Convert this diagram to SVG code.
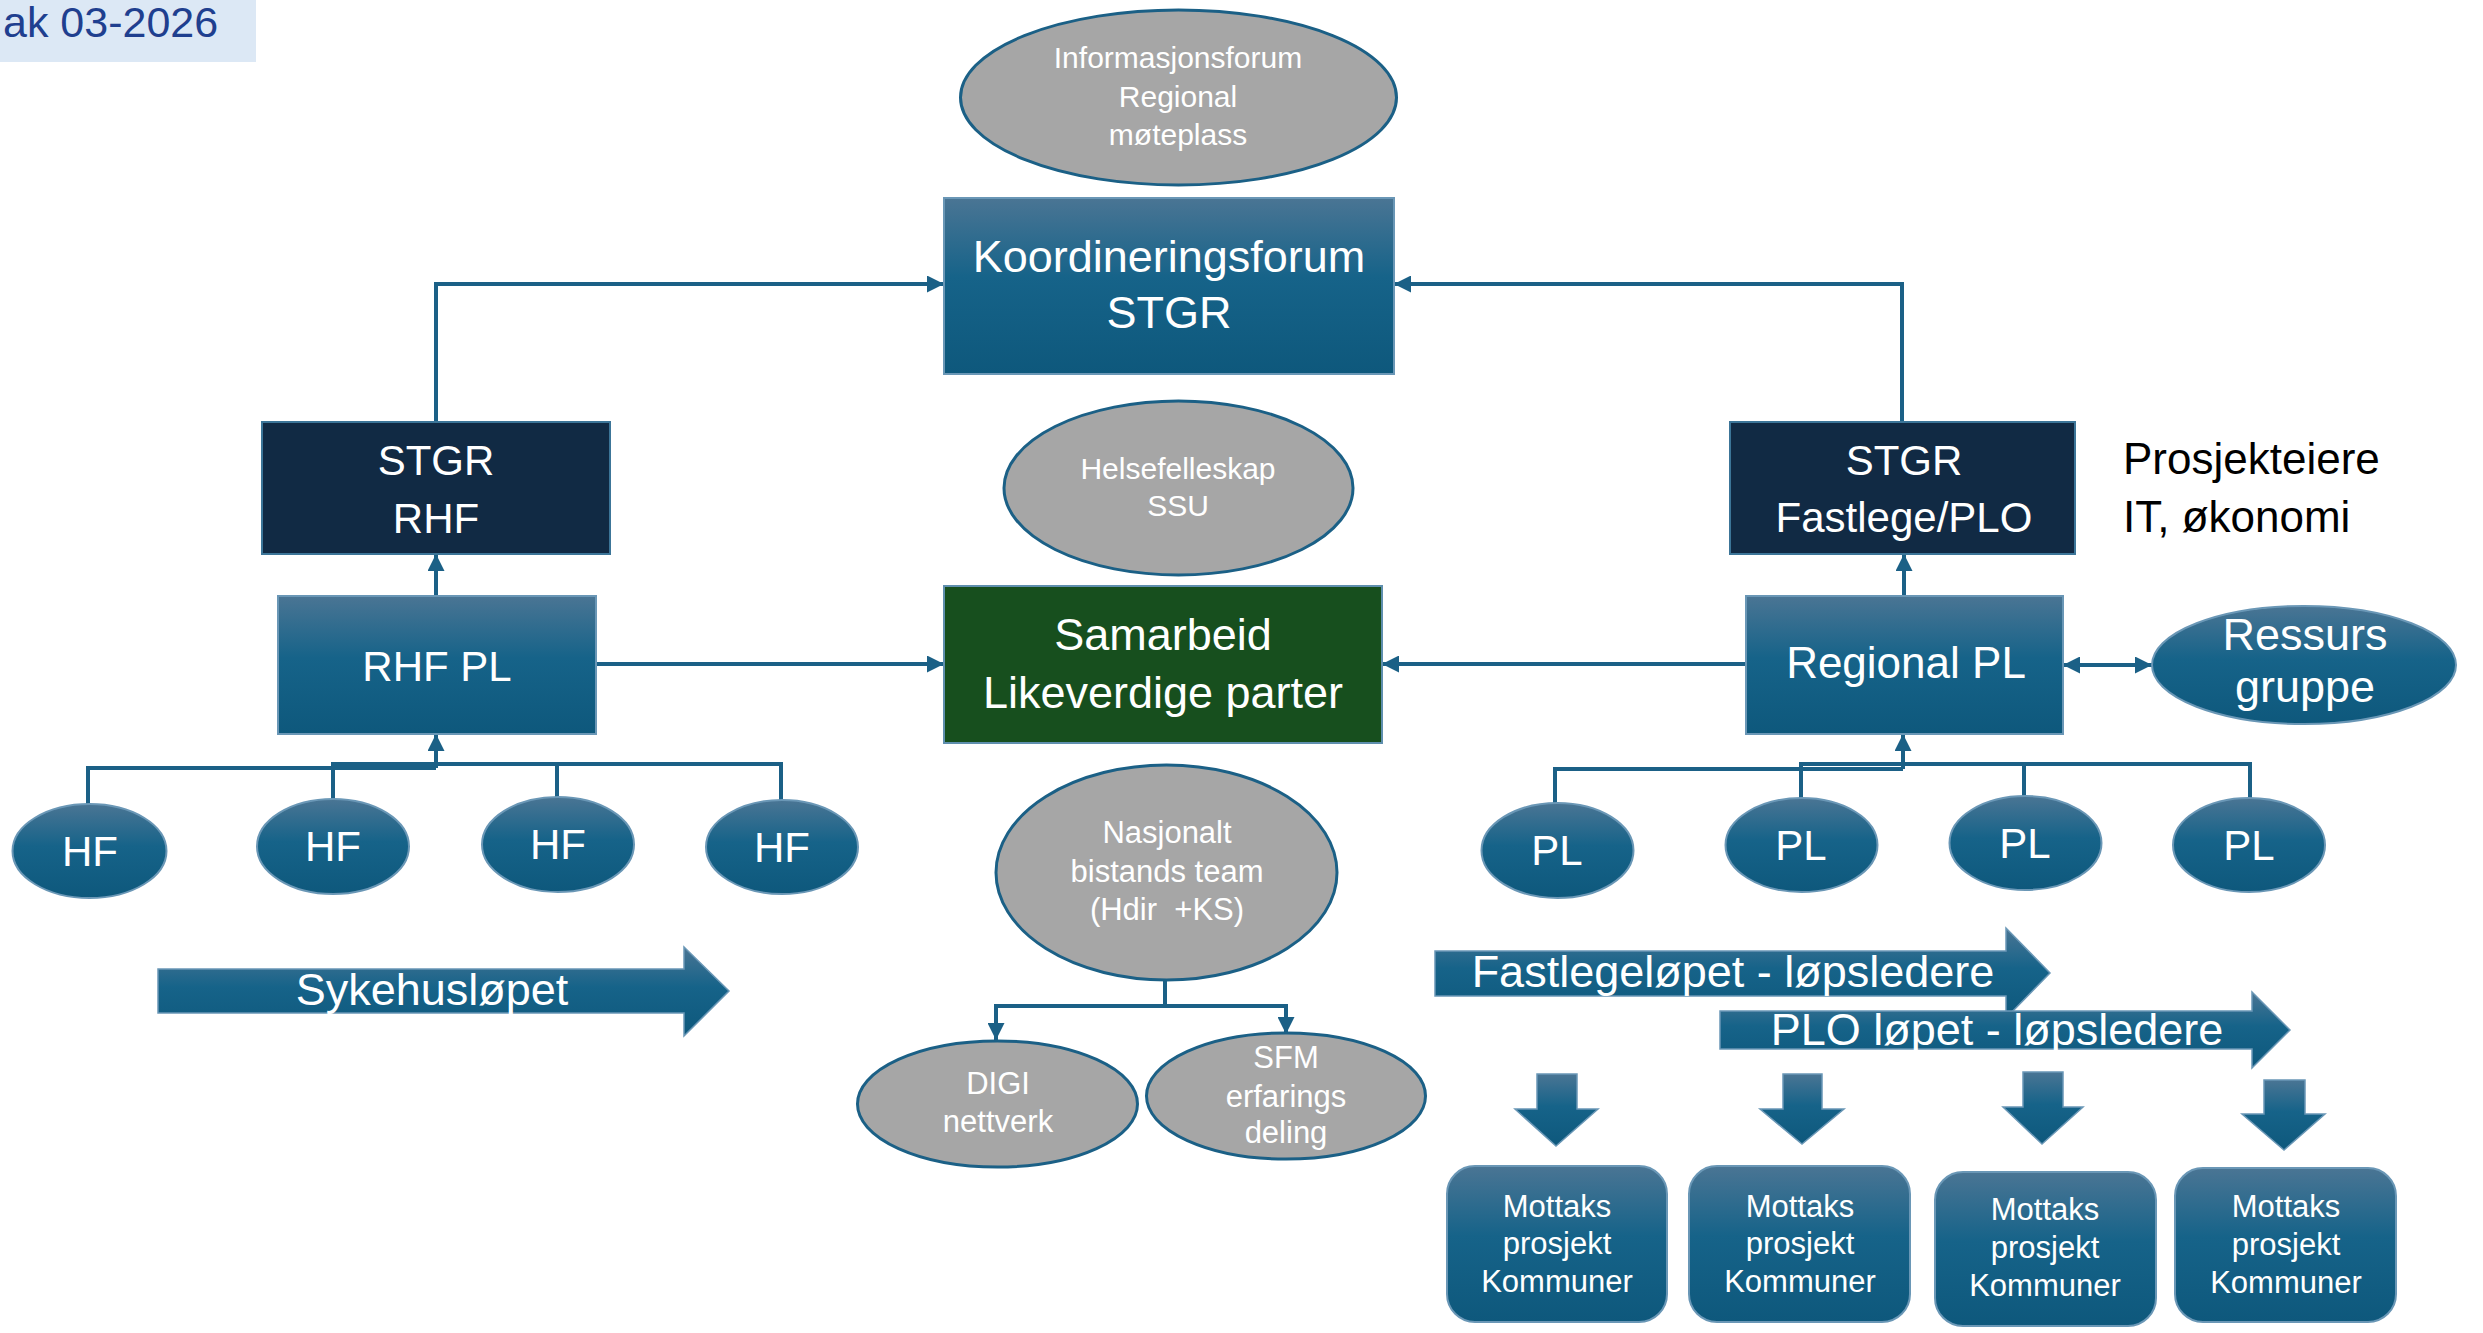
<svg xmlns="http://www.w3.org/2000/svg" width="2483" height="1333" viewBox="0 0 2483 1333">
<defs>
<linearGradient id="g" x1="0" y1="0" x2="0" y2="1">
<stop offset="0" stop-color="#4A7594"/>
<stop offset="0.45" stop-color="#166389"/>
<stop offset="1" stop-color="#0E587C"/>
</linearGradient>
<marker id="ah" markerWidth="17" markerHeight="17" refX="17" refY="8.5" orient="auto-start-reverse" markerUnits="userSpaceOnUse">
<path d="M0,0 L17,8.5 L0,17 Z" fill="#1B6086"/>
</marker>
<style>
text{font-family:"Liberation Sans",Arial,sans-serif;text-anchor:middle;fill:#fff}
.bx{fill:url(#g);stroke:#6A97B6;stroke-width:2}
.dk{fill:#112A44;stroke:#3C7598;stroke-width:2}
.gr{fill:#A6A6A6;stroke:#1B6086;stroke-width:3}
.c{fill:none;stroke:#1B6086;stroke-width:4}
.a{marker-end:url(#ah)}
.ba{fill:url(#g);stroke:#6A97B6;stroke-width:1.5}
</style>
</defs>
<rect width="2483" height="1333" fill="#fff"/>
<g id="label">
<rect x="0" y="0" width="256" height="62" fill="#DCE8F5"/>
<text x="3" y="37" style="text-anchor:start;fill:#1F3F8F;font-size:43px">ak 03-2026</text>
</g>
<g id="connectors">
<path class="c a" d="M436,422 V284 H944"/>
<path class="c a" d="M1902,422 V284 H1394"/>
<path class="c a" d="M436,596 V554"/>
<path class="c a" d="M1904,596 V554"/>
<path class="c a" d="M596,664 H944"/>
<path class="c a" d="M1746,664 H1382"/>
<path class="c a" d="M2063,665 H2152" style="marker-start:url(#ah)"/>
<path class="c" d="M88,804 V768 H436"/>
<path class="c" d="M333,799 V764 H781 V800"/>
<path class="c" d="M557,797 V764"/>
<path class="c a" d="M436,768 V734"/>
<path class="c" d="M1555,803 V769 H1903"/>
<path class="c" d="M1801,798 V764 H2250 V798"/>
<path class="c" d="M2024,796 V764"/>
<path class="c a" d="M1903,769 V734"/>
<path class="c" d="M1165,980 V1006 M994,1006 H1288"/>
<path class="c a" d="M996,1006 V1040"/>
<path class="c a" d="M1286,1006 V1034"/>
</g>
<g id="informasjonsforum">
<ellipse class="gr" cx="1178.5" cy="97.5" rx="218" ry="87.5"/>
<text x="1178" y="68" font-size="30">Informasjonsforum</text>
<text x="1178" y="107" font-size="30">Regional</text>
<text x="1178" y="145" font-size="30">møteplass</text>
</g>
<g id="koordineringsforum">
<rect class="bx" x="944" y="198" width="450" height="176"/>
<text x="1169" y="272" font-size="45">Koordineringsforum</text>
<text x="1169" y="328" font-size="45">STGR</text>
</g>
<g id="stgr-rhf">
<rect class="dk" x="262" y="422" width="348" height="132"/>
<text x="436" y="475" font-size="42">STGR</text>
<text x="436" y="533" font-size="42">RHF</text>
</g>
<g id="stgr-fastlege">
<rect class="dk" x="1730" y="422" width="345" height="132"/>
<text x="1904" y="475" font-size="42">STGR</text>
<text x="1904" y="532" font-size="42">Fastlege/PLO</text>
</g>
<g id="prosjekteiere">
<text x="2123" y="474" font-size="44" style="text-anchor:start;fill:#000">Prosjekteiere</text>
<text x="2123" y="532" font-size="44" style="text-anchor:start;fill:#000">IT, økonomi</text>
</g>
<g id="helsefelleskap">
<ellipse class="gr" cx="1178.5" cy="488" rx="174.5" ry="87"/>
<text x="1178" y="479" font-size="30">Helsefelleskap</text>
<text x="1178" y="516" font-size="30">SSU</text>
</g>
<g id="rhf-pl">
<rect class="bx" x="278" y="596" width="318" height="138"/>
<text x="437" y="681" font-size="42">RHF PL</text>
</g>
<g id="samarbeid">
<rect x="944" y="586" width="438" height="157" fill="#174F1E" stroke="#5F8FAE" stroke-width="2"/>
<text x="1163" y="650" font-size="45">Samarbeid</text>
<text x="1163" y="708" font-size="45">Likeverdige parter</text>
</g>
<g id="regional-pl">
<rect class="bx" x="1746" y="596" width="317" height="138"/>
<text x="1906" y="678" font-size="44">Regional PL</text>
</g>
<g id="ressursgruppe">
<ellipse class="bx" cx="2304" cy="665" rx="152" ry="59"/>
<text x="2305" y="650" font-size="45">Ressurs</text>
<text x="2305" y="702" font-size="45">gruppe</text>
</g>
<g id="hf1"><ellipse class="bx" cx="89.5" cy="851" rx="77" ry="47"/><text x="90" y="866" font-size="42">HF</text></g>
<g id="hf2"><ellipse class="bx" cx="333" cy="846.5" rx="76" ry="47.5"/><text x="333" y="861" font-size="42">HF</text></g>
<g id="hf3"><ellipse class="bx" cx="558" cy="844.5" rx="76" ry="47.5"/><text x="558" y="859" font-size="42">HF</text></g>
<g id="hf4"><ellipse class="bx" cx="782" cy="847" rx="76" ry="47"/><text x="782" y="862" font-size="42">HF</text></g>
<g id="pl1"><ellipse class="bx" cx="1557.5" cy="850.5" rx="76" ry="47.5"/><text x="1557" y="865" font-size="42">PL</text></g>
<g id="pl2"><ellipse class="bx" cx="1801.5" cy="845" rx="76" ry="47"/><text x="1801" y="860" font-size="42">PL</text></g>
<g id="pl3"><ellipse class="bx" cx="2025.5" cy="843" rx="76" ry="47"/><text x="2025" y="858" font-size="42">PL</text></g>
<g id="pl4"><ellipse class="bx" cx="2249" cy="845" rx="76" ry="47"/><text x="2249" y="860" font-size="42">PL</text></g>
<g id="nasjonalt">
<ellipse class="gr" cx="1166.5" cy="872.5" rx="170.5" ry="107.5"/>
<text x="1167" y="843" font-size="31">Nasjonalt</text>
<text x="1167" y="882" font-size="31">bistands team</text>
<text x="1167" y="920" font-size="31" xml:space="preserve">(Hdir  +KS)</text>
</g>
<g id="digi">
<ellipse class="gr" cx="997.5" cy="1104" rx="140" ry="63"/>
<text x="998" y="1094" font-size="31">DIGI</text>
<text x="998" y="1132" font-size="31">nettverk</text>
</g>
<g id="sfm">
<ellipse class="gr" cx="1286" cy="1096" rx="139.5" ry="63"/>
<text x="1286" y="1068" font-size="31">SFM</text>
<text x="1286" y="1107" font-size="31">erfarings</text>
<text x="1286" y="1143" font-size="31">deling</text>
</g>
<g id="sykehuslopet">
<path class="ba" d="M158,969 H684 V947 L729,991 L684,1036 V1013 H158 Z"/>
<text x="432" y="1005" font-size="45">Sykehusløpet</text>
</g>
<g id="fastlegelopet">
<path class="ba" d="M1435,951 H2006 V928 L2050,973 L2006,1018 V996 H1435 Z"/>
<text x="1733" y="987" font-size="45">Fastlegeløpet - løpsledere</text>
</g>
<g id="plolopet">
<path class="ba" d="M1720,1011 H2252 V992 L2290,1030 L2252,1068 V1049 H1720 Z"/>
<text x="1997" y="1045" font-size="45">PLO løpet - løpsledere</text>
</g>
<g id="down-arrows">
<path class="ba" d="M1537,1074 H1577 V1109 H1598 L1556,1146 L1515,1109 H1537 Z"/>
<path class="ba" d="M1783,1074 H1822 V1109 H1844 L1802,1144 L1760,1109 H1783 Z"/>
<path class="ba" d="M2023,1072 H2063 V1107 H2083 L2042,1144 L2003,1107 H2023 Z"/>
<path class="ba" d="M2264,1080 H2305 V1114 H2325 L2284,1150 L2242,1114 H2264 Z"/>
</g>
<g id="mottaks1">
<rect class="bx" x="1447" y="1166" width="220" height="156" rx="28"/>
<text x="1557" y="1217" font-size="31">Mottaks</text>
<text x="1557" y="1254" font-size="31">prosjekt</text>
<text x="1557" y="1292" font-size="31">Kommuner</text>
</g>
<g id="mottaks2">
<rect class="bx" x="1689" y="1166" width="221" height="156" rx="28"/>
<text x="1800" y="1217" font-size="31">Mottaks</text>
<text x="1800" y="1254" font-size="31">prosjekt</text>
<text x="1800" y="1292" font-size="31">Kommuner</text>
</g>
<g id="mottaks3">
<rect class="bx" x="1935" y="1172" width="221" height="154" rx="28"/>
<text x="2045" y="1220" font-size="31">Mottaks</text>
<text x="2045" y="1258" font-size="31">prosjekt</text>
<text x="2045" y="1296" font-size="31">Kommuner</text>
</g>
<g id="mottaks4">
<rect class="bx" x="2175" y="1168" width="221" height="154" rx="28"/>
<text x="2286" y="1217" font-size="31">Mottaks</text>
<text x="2286" y="1255" font-size="31">prosjekt</text>
<text x="2286" y="1293" font-size="31">Kommuner</text>
</g>
</svg>
